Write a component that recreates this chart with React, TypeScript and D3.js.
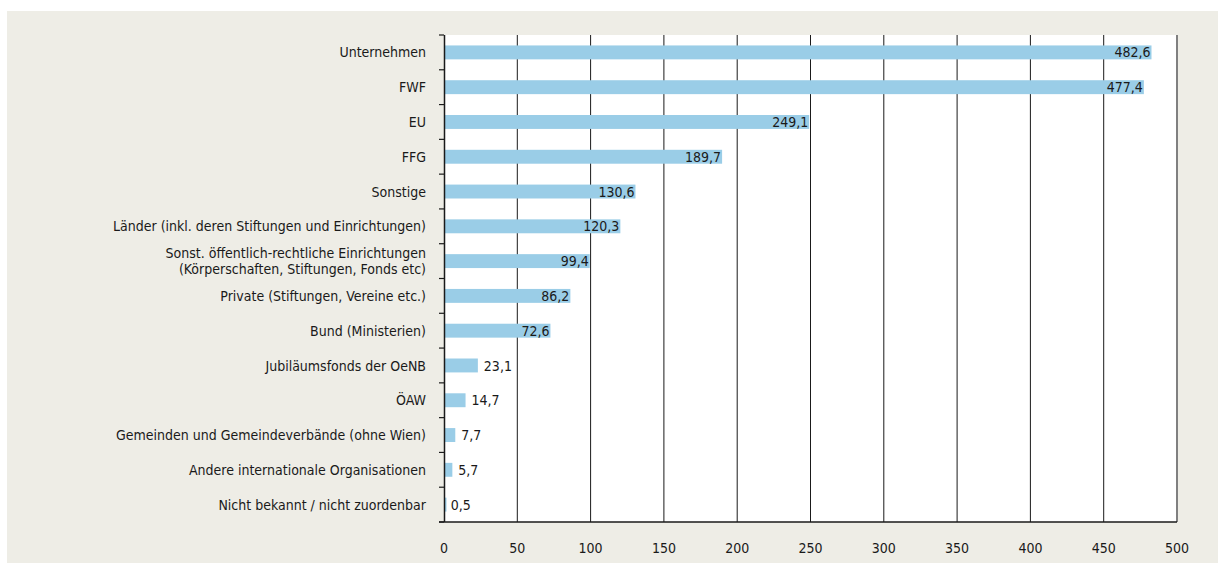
import React, { useEffect, useRef } from "react";
import * as d3 from "d3";

// categories top to bottom, lines split with "\n"
const categories = [
  "Unternehmen",
  "FWF",
  "EU",
  "FFG",
  "Sonstige",
  "Länder (inkl. deren Stiftungen und Einrichtungen)",
  "Sonst. öffentlich-rechtliche Einrichtungen\n(Körperschaften, Stiftungen, Fonds etc)",
  "Private (Stiftungen, Vereine etc.)",
  "Bund (Ministerien)",
  "Jubiläumsfonds der OeNB",
  "ÖAW",
  "Gemeinden und Gemeindeverbände (ohne Wien)",
  "Andere internationale Organisationen",
  "Nicht bekannt / nicht zuordenbar",
];

const values = [482.6, 477.4, 249.1, 189.7, 130.6, 120.3, 99.4, 86.2, 72.6, 23.1, 14.7, 7.7, 5.7, 0.5];

const xTicks = [0, 50, 100, 150, 200, 250, 300, 350, 400, 450, 500];

const W = 1218;
const H = 563;
const FONT = "'DejaVu Sans Condensed', 'Liberation Sans Narrow', sans-serif";
const FS = "14px";

const fmt = (v: number) => v.toFixed(1).replace(".", ",");

const App: React.FC = () => {
  const svgRef = useRef<SVGSVGElement>(null);

  useEffect(() => {
    if (!svgRef.current) return;
    const svg = d3.select(svgRef.current);
    svg.selectAll("*").remove();

    const margin = { top: 35, right: 41, bottom: 41, left: 444 };
    const cw = W - margin.left - margin.right;
    const ch = H - margin.top - margin.bottom;

    // beige backdrop
    svg
      .append("rect")
      .attr("x", 7)
      .attr("y", 11)
      .attr("width", W - 7)
      .attr("height", H - 11)
      .attr("fill", "#eeede6");

    const g = svg.append("g").attr("transform", `translate(${margin.left},${margin.top})`);

    const x = d3.scaleLinear().domain([0, 500]).range([0, cw]);
    const y = d3.scaleBand<string>().domain(categories).range([0, ch]).paddingInner(0.6).paddingOuter(0.3);
    const band = d3.scaleBand<string>().domain(categories).range([0, ch]);

    g.append("rect").attr("width", cw).attr("height", ch).attr("fill", "#ffffff");

    // vertical grid
    g.selectAll(".grid")
      .data(xTicks.slice(1, -1))
      .enter()
      .append("line")
      .attr("x1", (d) => x(d))
      .attr("x2", (d) => x(d))
      .attr("y1", 0)
      .attr("y2", ch)
      .attr("stroke", "#1a1a1a")
      .attr("stroke-width", 1);

    // right border
    g.append("line")
      .attr("x1", x(500))
      .attr("x2", x(500))
      .attr("y1", 0)
      .attr("y2", ch)
      .attr("stroke", "#808080")
      .attr("stroke-width", 2);

    // bars
    g.selectAll(".bar")
      .data(values)
      .enter()
      .append("rect")
      .attr("x", x(0))
      .attr("y", (_, i) => y(categories[i])!)
      .attr("width", (d) => Math.max(2.5, x(d) - x(0)))
      .attr("height", y.bandwidth())
      .attr("fill", "#9acde7");

    // value labels
    g.selectAll(".val")
      .data(values)
      .enter()
      .append("text")
      .attr("x", (d) => (d >= 50 ? x(d) - 1 : x(d) + 6))
      .attr("y", (_, i) => y(categories[i])! + y.bandwidth() / 2)
      .attr("dy", "0.36em")
      .attr("text-anchor", (d) => (d >= 50 ? "end" : "start"))
      .style("font-family", FONT)
      .style("font-size", FS)
      .attr("fill", "#1a1a1a")
      .text((d) => fmt(d));

    // y axis line + ticks at band boundaries
    g.append("line")
      .attr("x1", 0.5)
      .attr("x2", 0.5)
      .attr("y1", 0)
      .attr("y2", ch)
      .attr("stroke", "#1a1a1a")
      .attr("stroke-width", 1.5);

    const bounds = d3.range(categories.length + 1).map((i) => i * band.step());
    g.selectAll(".ytick")
      .data(bounds)
      .enter()
      .append("line")
      .attr("x1", -5)
      .attr("x2", 0)
      .attr("y1", (d) => d)
      .attr("y2", (d) => d)
      .attr("stroke", "#1a1a1a")
      .attr("stroke-width", 1.2);

    // x axis line
    g.append("line")
      .attr("x1", -5)
      .attr("x2", cw)
      .attr("y1", ch)
      .attr("y2", ch)
      .attr("stroke", "#1a1a1a")
      .attr("stroke-width", 1.5);

    // x tick labels
    g.selectAll(".xlab")
      .data(xTicks)
      .enter()
      .append("text")
      .attr("x", (d) => x(d))
      .attr("y", ch + 26)
      .attr("dy", "0.36em")
      .attr("text-anchor", "middle")
      .style("font-family", FONT)
      .style("font-size", FS)
      .attr("fill", "#1a1a1a")
      .text((d) => String(d));

    // category labels
    categories.forEach((c) => {
      const lines = c.split("\n");
      const cy = y(c)! + y.bandwidth() / 2;
      const lh = 16;
      const t = g
        .append("text")
        .attr("text-anchor", "end")
        .style("font-family", FONT)
        .style("font-size", FS)
        .attr("fill", "#1a1a1a");
      lines.forEach((ln, k) => {
        t.append("tspan")
          .attr("x", -18)
          .attr("y", cy + (k - (lines.length - 1) / 2) * lh)
          .attr("dy", "0.36em")
          .text(ln);
      });
    });
  }, []);

  return (
    <svg
      ref={svgRef}
      width={W}
      height={H}
      style={{ position: "absolute", left: 0, top: 0, display: "block" }}
    />
  );
};

export default App;
